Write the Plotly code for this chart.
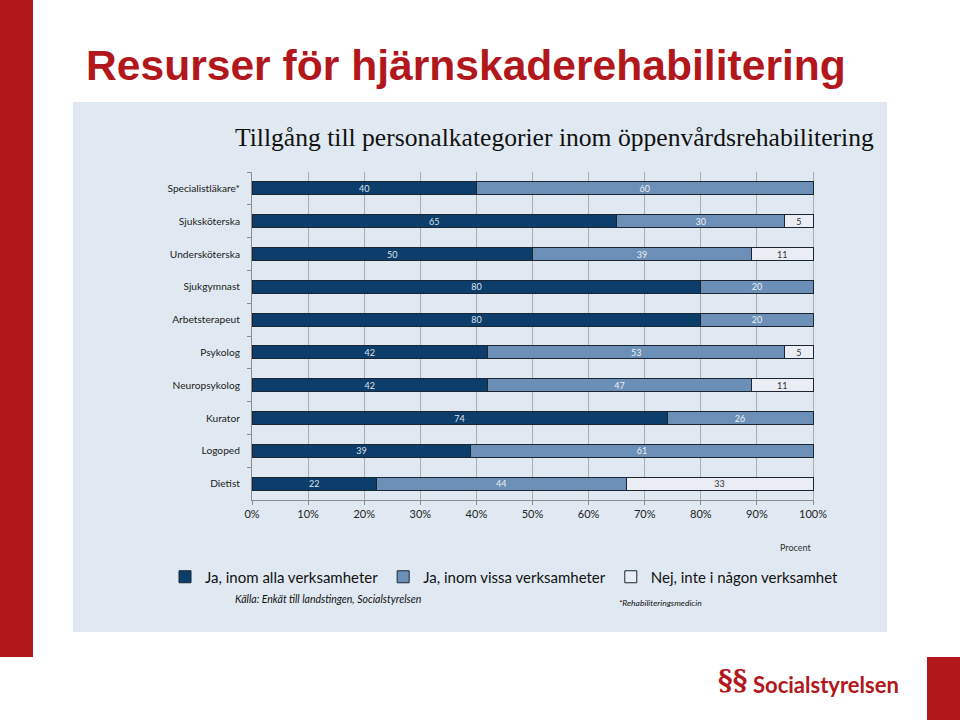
import plotly.graph_objects as go

categories = ["Specialistläkare*", "Sjuksköterska", "Undersköterska", "Sjukgymnast",
              "Arbetsterapeut", "Psykolog", "Neuropsykolog", "Kurator", "Logoped", "Dietist"]
ja_alla = [40, 65, 50, 80, 80, 42, 42, 74, 39, 22]
ja_vissa = [60, 30, 39, 20, 20, 53, 47, 26, 61, 44]
nej = [None, 5, 11, None, None, 5, 11, None, None, 33]
series_names = ["Ja, inom alla verksamheter", "Ja, inom vissa verksamheter", "Nej, inte i någon verksamhet"]
x_ticks = [0, 10, 20, 30, 40, 50, 60, 70, 80, 90, 100]

W, H = 960, 720
def px(x):
    return x / W
def py(y):
    return 1 - y / H

colors = ["#0c3d6b", "#6b8fb6", "#eaeef4"]
text_colors = ["#dfe4ec", "#edf1f6", "#333333"]
FONT = "Lato"

fig = go.Figure()
for vals, name, col, tcol in zip([ja_alla, ja_vissa, nej], series_names, colors, text_colors):
    fig.add_trace(go.Bar(
        y=categories, x=vals, name=name, orientation="h",
        marker=dict(color=col, line=dict(color="#1b2632", width=1)),
        text=["" if v is None else str(v) for v in vals],
        textposition="inside", insidetextanchor="middle", textangle=0,
        constraintext="none",
        textfont=dict(family=FONT, size=9, color=tcol),
        hoverinfo="skip",
    ))

# x axis: 0% at 252 px, 100% at 813 px; small headroom so the bar outline at 100% is visible
x_pad = 0.25
x_right = 813 + x_pad * (813 - 252) / 100

fig.update_layout(
    width=W, height=H, autosize=False,
    margin=dict(l=0, r=0, t=0, b=0),
    paper_bgcolor="white", plot_bgcolor="rgba(0,0,0,0)",
    barmode="stack", barnorm="percent", bargap=0.6,
    xaxis=dict(domain=[px(252), px(x_right)], range=[0, 100 + x_pad], tickvals=x_ticks,
               ticktext=[f"{t}%" for t in x_ticks],
               showgrid=True, gridcolor="#a9adb2", gridwidth=1,
               showline=True, linecolor="#8c8c8c", linewidth=1,
               ticks="outside", ticklen=4, tickcolor="#8c8c8c",
               tickfont=dict(family=FONT, size=11, color="#222222"),
               zeroline=False, fixedrange=True, automargin=False),
    yaxis=dict(domain=[py(500), py(172)], type="category",
               categoryorder="array", categoryarray=categories[::-1],
               showline=True, linecolor="#8c8c8c", linewidth=1,
               ticks="outside", ticklen=4, tickcolor="#8c8c8c", tickson="boundaries",
               ticklabelstandoff=9,
               tickfont=dict(family=FONT, size=10.2, color="#222222"),
               showgrid=False, fixedrange=True, automargin=False),
    legend=dict(orientation="h", x=px(165), xanchor="left", y=py(577), yanchor="middle",
                font=dict(family=FONT, size=15, color="#111111"),
                bgcolor="rgba(0,0,0,0)", traceorder="normal", itemwidth=30),
    showlegend=True,
)

shapes = [
    dict(type="rect", xref="paper", yref="paper", x0=0, x1=px(33), y0=py(657), y1=1,
         fillcolor="#b2171c", line=dict(width=0), layer="below"),
    dict(type="rect", xref="paper", yref="paper", x0=px(927), x1=1, y0=0, y1=py(657),
         fillcolor="#b2171c", line=dict(width=0), layer="below"),
    dict(type="rect", xref="paper", yref="paper", x0=px(73), x1=px(887), y0=py(632), y1=py(102),
         fillcolor="#e0e9f1", line=dict(width=0), layer="below"),
]
fig.update_layout(shapes=shapes)

def ann(text, x, y, xanchor, font):
    return dict(text=text, x=px(x), y=py(y), xref="paper", yref="paper",
                xanchor=xanchor, yanchor="middle", showarrow=False, font=font)

annotations = [
    ann("<b>Resurser för hjärnskaderehabilitering</b>", 84, 65, "left",
        dict(family="Liberation Sans", size=42.6, color="#b2171c")),
    ann("Tillgång till personalkategorier inom öppenvårdsrehabilitering", 554, 137, "center",
        dict(family="Liberation Serif", size=25.6, color="#111111")),
    ann("Procent", 795, 547, "center", dict(family=FONT, size=9, color="#333333")),
    ann("<i>Källa: Enkät till landstingen, Socialstyrelsen</i>", 233, 599, "left",
        dict(family=FONT, size=10.5, color="#111111")),
    ann("<i>*Rehabiliteringsmedicin</i>", 617, 603, "left",
        dict(family=FONT, size=8.5, color="#111111")),
    ann("Socialstyrelsen", 751, 684, "left",
        dict(family="Lato", size=22, color="#b2171c", weight=700)),
    ann("<b>§§</b>", 732, 680, "center",
        dict(family="DejaVu Serif", size=28, color="#b2171c")),
]
fig.update_layout(annotations=annotations)

fig.write_html("out.html", config={"displayModeBar": False},
               post_script="document.body.style.margin='0px';document.body.style.overflow='hidden';")
